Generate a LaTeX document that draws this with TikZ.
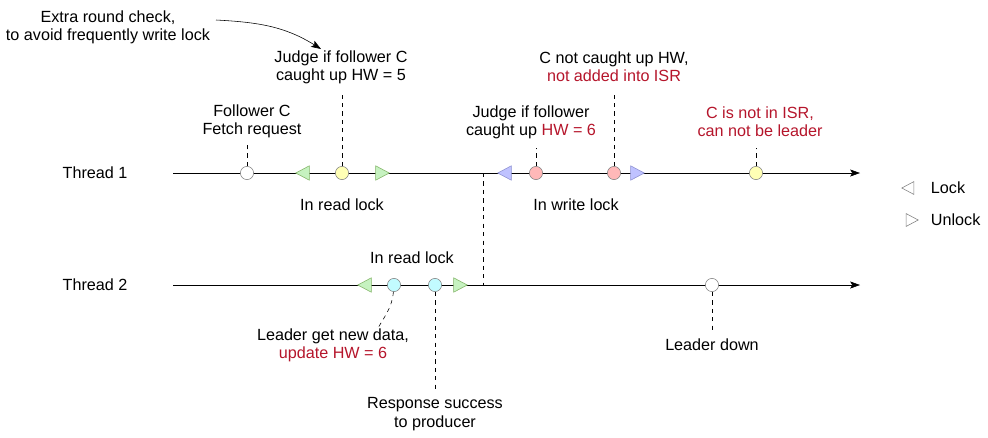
\documentclass[tikz,border=0pt]{standalone}
\usepackage{fontspec}
\setmainfont{Liberation Sans}
\usetikzlibrary{arrows.meta, shapes.geometric}
\definecolor{hwred}{HTML}{B5152B}
\definecolor{lkgreen}{HTML}{C6F2C0}
\definecolor{lkgreenD}{HTML}{82B366}
\definecolor{lkblue}{HTML}{BFC2FF}
\definecolor{lkblueD}{HTML}{8C8FD0}
\definecolor{evyellow}{HTML}{FFFFB5}
\definecolor{evred}{HTML}{FFB8B8}
\definecolor{evcyan}{HTML}{C2FBFF}

\begin{document}
\begin{tikzpicture}[x=0.025cm, y=-0.025cm, font=\fontsize{11.5}{13}\selectfont,
		evt/.style={circle, draw=black!50, minimum size=0.33cm, inner sep=0pt},
		lck/.style={isosceles triangle, isosceles triangle stretches, draw=#1, minimum width=0.36cm, minimum height=0.34cm, inner sep=0pt, shape border rotate=180},
		ulk/.style={isosceles triangle, isosceles triangle stretches, draw=#1, minimum width=0.36cm, minimum height=0.34cm, inner sep=0pt},
		txt/.style={align=center, inner sep=1pt},
		tl/.style={-{Stealth[length=7pt, width=5pt, inset=1.5pt]}}]
			\useasboundingbox (0,0) rectangle (988,437);
			\coordinate (t1a) at (173,173);
			\coordinate (t1b) at (860,173);
			\coordinate (t2a) at (173,285);
			\coordinate (t2b) at (860,285);
			\coordinate (x1) at (483,173);
			\coordinate (x2) at (483,285);
			\node (th1) at (95,173) {Thread 1};
			\node (th2) at (95,285) {Thread 2};
			\draw[tl] (t1a) -- (t1b);
			\draw[tl] (t2a) -- (t2b);
			\draw[dashed] (x1) -- (x2);
			\node[txt] (note) at (108,27) {Extra round check,\\to avoid frequently write lock};
			\coordinate (noteA) at (216,20);
			\coordinate (noteB) at (321,49);
			\draw[tl] (noteA) to[out=-3, in=148] (noteB);
			\node[evt, fill=white] (fetch) at (247,173) {};
			\node[lck=lkgreenD, fill=lkgreen] (rl1) at (305,173) {};
			\node[evt, fill=evyellow] (judge5) at (342,173) {};
			\node[ulk=lkgreenD, fill=lkgreen] (ru1) at (380,173) {};
			\node[lck=lkblueD, fill=lkblue] (wl1) at (507,173) {};
			\node[evt, fill=evred] (judge6) at (536,173) {};
			\node[evt, fill=evred] (notup) at (614,173) {};
			\node[ulk=lkblueD, fill=lkblue] (wu1) at (635,173) {};
			\node[evt, fill=evyellow] (notisr) at (756,173) {};
			\coordinate (fetchT) at (247,145);
			\coordinate (judge5T) at (342,95);
			\coordinate (judge6T) at (536,148);
			\coordinate (notupT) at (614,95);
			\coordinate (notisrT) at (756,148);
			\draw[dashed] (fetch) -- (fetchT);
			\draw[dashed] (judge5) -- (judge5T);
			\draw[dashed] (judge6) -- (judge6T);
			\draw[dashed] (notup) -- (notupT);
			\draw[dashed] (notisr) -- (notisrT);
			\node[txt] (fetchTxt) at (252,121) {Follower C\\Fetch request};
			\node[txt] (judge5Txt) at (341,67) {Judge if follower C\\caught up HW = 5};
			\node[txt] (judge6Txt) at (531,122) {Judge if follower\\caught up \textcolor{hwred}{HW = 6}};
			\node[txt] (notupTxt) at (614,67) {C not caught up HW,\\\textcolor{hwred}{not added into ISR}};
			\node[txt, text=hwred] (notisrTxt) at (760,122) {C is not in ISR,\\can not be leader};
			\node (rlk1) at (342,205) {In read lock};
			\node (wlk1) at (576,205) {In write lock};
			\node[lck=lkgreenD, fill=lkgreen] (rl2) at (367,285) {};
			\node[evt, fill=evcyan] (newdata) at (394,285) {};
			\node[evt, fill=evcyan] (resp) at (435,285) {};
			\node[ulk=lkgreenD, fill=lkgreen] (ru2) at (458,285) {};
			\node[evt, fill=white] (down) at (712,285) {};
			\coordinate (newdataB) at (378,328);
			\coordinate (respB) at (435,390);
			\coordinate (downB) at (712,330);
			\draw[dashed] (newdata) to[out=-95, in=60] (newdataB);
			\draw[dashed] (resp) -- (respB);
			\draw[dashed] (down) -- (downB);
			\node (rlk2) at (412,258) {In read lock};
			\node[txt] (newdataTxt) at (333,345) {Leader get new data,\\\textcolor{hwred}{update HW = 6}};
			\node[txt] (respTxt) at (435,414) {Response success\\to producer};
			\node (downTxt) at (712,345) {Leader down};
			\node[lck=black!50, minimum width=0.32cm, minimum height=0.3cm] (lgLock) at (910,188) {};
			\node[ulk=black!50, minimum width=0.32cm, minimum height=0.3cm] (lgUnlock) at (910,220) {};
			\node[anchor=west] (lgLockTxt) at (926,188) {Lock};
			\node[anchor=west] (lgUnlockTxt) at (926,220) {Unlock};
		\end{tikzpicture}
\end{document}
